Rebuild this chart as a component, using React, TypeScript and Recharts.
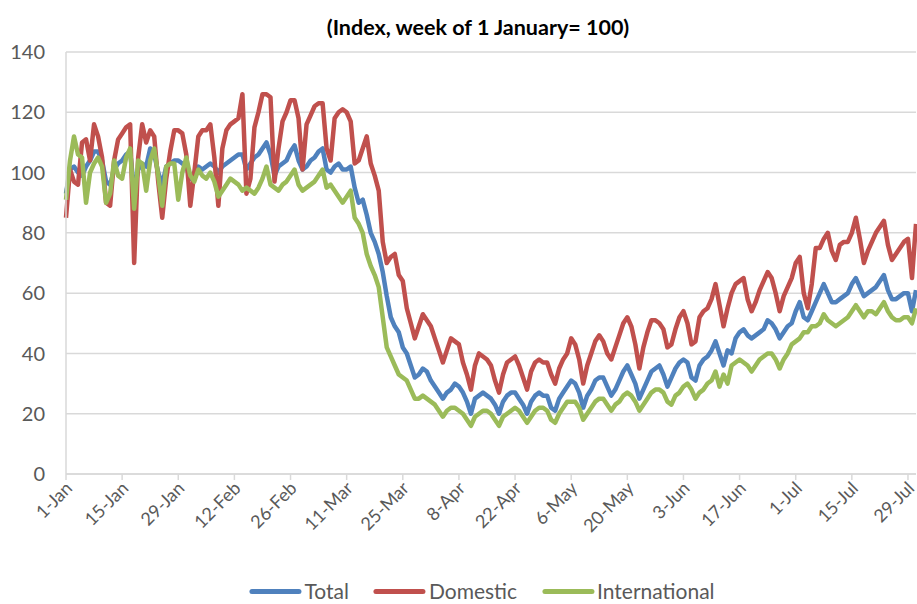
import React from 'react';
import { LineChart, Line, XAxis, YAxis, CartesianGrid } from 'recharts';

const MONTHS = ['Jan', 'Feb', 'Mar', 'Apr', 'May', 'Jun', 'Jul'];

// daily index values, 1 Jan - 31 Jul (one row per week, Wed..Tue)
const domestic: number[] = [
  85, 101, 97, 96, 110, 111, 104,
  116, 112, 105, 90, 89, 104, 111,
  113, 115, 116, 70, 105, 116, 110,
  114, 112, 97, 85, 98, 107, 114,
  114, 113, 106, 89, 100, 112, 114,
  114, 116, 105, 89, 108, 114, 116,
  117, 118, 126, 93, 98, 115, 120,
  126, 126, 125, 97, 108, 117, 120,
  124, 124, 118, 101, 116, 119, 122,
  123, 123, 108, 104, 118, 120, 121,
  120, 117, 103, 104, 108, 112, 103,
  99, 94, 77, 70, 72, 73, 66,
  64, 55, 50, 45, 49, 53, 51,
  49, 45, 41, 37, 41, 45, 44,
  43, 37, 33, 28, 36, 40, 39,
  38, 36, 31, 27, 33, 37, 38,
  39, 36, 32, 28, 34, 37, 38,
  37, 37, 33, 30, 35, 38, 40,
  45, 43, 38, 30, 36, 40, 44,
  46, 44, 40, 38, 42, 46, 50,
  52, 49, 43, 35, 42, 47, 51,
  51, 50, 48, 42, 43, 48, 52,
  54, 50, 43, 44, 52, 54, 55,
  58, 63, 56, 49, 55, 60, 63,
  64, 65, 58, 54, 57, 61, 64,
  67, 65, 60, 54, 59, 62, 65,
  70, 72, 60, 55, 63, 75, 75,
  78, 80, 74, 71, 76, 77, 77,
  80, 85, 78, 70, 74, 77, 80,
  82, 84, 76, 71, 73, 75, 77,
  78, 65, 83,
];

const total: number[] = [
  93, 101, 102, 100, 99, 102, 104,
  107, 107, 104, 97, 96, 101, 103,
  104, 106, 107, 94, 101, 103, 102,
  108, 106, 100, 96, 102, 103, 104,
  104, 103, 102, 98, 100, 102, 101,
  102, 103, 102, 100, 102, 103, 104,
  105, 106, 106, 101, 103, 105, 106,
  108, 110, 106, 99, 102, 103, 104,
  107, 109, 104, 101, 102, 104, 105,
  107, 108, 101, 100, 102, 103, 101,
  101, 102, 95, 90, 91, 86, 80,
  77, 73, 67, 59, 52, 49, 47,
  42, 40, 36, 32, 33, 35, 34,
  31, 29, 27, 25, 27, 28, 30,
  29, 27, 24, 20, 25, 26, 27,
  26, 25, 23, 20, 24, 26, 27,
  27, 25, 23, 20, 24, 26, 27,
  26, 26, 22, 21, 25, 27, 29,
  31, 30, 27, 22, 26, 28, 31,
  32, 32, 29, 26, 28, 31, 34,
  36, 33, 30, 25, 28, 31, 34,
  35, 36, 33, 29, 32, 35, 37,
  38, 37, 32, 31, 36, 38, 39,
  41, 44, 40, 36, 41, 40, 45,
  47, 48, 46, 45, 46, 47, 48,
  51, 50, 48, 45, 47, 49, 50,
  54, 57, 52, 51, 54, 57, 60,
  63, 60, 57, 57, 58, 59, 60,
  63, 65, 62, 59, 60, 61, 62,
  64, 66, 61, 58, 58, 59, 60,
  60, 54, 61,
];

const international: number[] = [
  91, 104, 112, 106, 105, 90, 100,
  103, 105, 102, 90, 93, 104, 99,
  98, 105, 108, 88, 104, 103, 94,
  104, 108, 99, 89, 102, 103, 103,
  91, 100, 105, 99, 97, 101, 99,
  98, 100, 97, 92, 94, 96, 98,
  97, 96, 94, 95, 94, 93, 95,
  98, 102, 96, 95, 94, 96, 97,
  99, 101, 96, 94, 95, 96, 97,
  99, 101, 95, 96, 94, 92, 90,
  92, 94, 85, 83, 80, 73, 69,
  66, 62, 52, 42, 39, 36, 33,
  32, 31, 28, 25, 25, 26, 25,
  24, 23, 21, 19, 21, 22, 22,
  21, 20, 18, 16, 19, 20, 21,
  21, 20, 18, 16, 19, 20, 21,
  22, 21, 19, 17, 19, 21, 22,
  22, 21, 18, 17, 20, 22, 24,
  24, 24, 22, 18, 20, 22, 24,
  25, 25, 23, 21, 23, 24, 26,
  27, 26, 24, 21, 23, 25, 27,
  28, 28, 27, 24, 23, 26, 27,
  29, 30, 28, 25, 27, 28, 30,
  31, 34, 29, 33, 30, 36, 37,
  38, 37, 36, 34, 36, 38, 39,
  40, 40, 38, 35, 38, 40, 43,
  44, 45, 47, 47, 49, 49, 50,
  53, 51, 50, 49, 50, 51, 52,
  54, 56, 54, 52, 54, 54, 53,
  55, 57, 54, 52, 51, 51, 52,
  52, 50, 55,
];

const yTicks = [0, 20, 40, 60, 80, 100, 120, 140];

const days = domestic.map((_, i) => {
  const d = new Date(2020, 0, 1 + i);
  return `${d.getDate()}-${MONTHS[d.getMonth()]}`;
});

const data = days.map((day, i) => ({
  day,
  total: total[i],
  domestic: domestic[i],
  international: international[i],
}));

const series = [
  { key: 'total', name: 'Total', color: '#4F81BD' },
  { key: 'domestic', name: 'Domestic', color: '#C0504D' },
  { key: 'international', name: 'International', color: '#9BBB59' },
];

const FONT = 'Lato, "Open Sans", sans-serif';

const DateTick = ({ x, y, payload }: any) => (
  <g transform={`translate(${x + 3},${y + 3})`}>
    <text
      textAnchor="end"
      dy="0.35em"
      transform="rotate(-45)"
      fontSize={18}
      fill="#595959"
      fontFamily={FONT}
    >
      {payload.value}
    </text>
  </g>
);

export default function App() {
  return (
    <div style={{ position: 'absolute', left: 0, top: 0, width: 917, height: 604, background: '#fff', fontFamily: FONT, overflow: 'hidden' }}>
      <div
        style={{
          position: 'absolute',
          top: 14,
          left: 478,
          transform: 'translateX(-50%)',
          whiteSpace: 'nowrap',
          fontSize: 21.5,
          lineHeight: '26px',
          fontWeight: 700,
          color: '#000',
        }}
      >
        (Index, week of 1 January= 100)
      </div>

      <LineChart width={917} height={604} data={data} margin={{ top: 52, right: 1, left: 0, bottom: 50 }}>
        <CartesianGrid vertical={false} stroke="#d9d9d9" strokeWidth={1.5} />
        <XAxis
          dataKey="day"
          interval={13}
          height={80}
          axisLine={{ stroke: '#d9d9d9', strokeWidth: 1.5 }}
          tickLine={{ stroke: '#d9d9d9', strokeWidth: 1.5 }}
          tickSize={6}
          tick={<DateTick />}
        />
        <YAxis
          width={66}
          domain={[0, 140]}
          ticks={yTicks}
          axisLine={{ stroke: '#d9d9d9', strokeWidth: 1.5 }}
          tickLine={false}
          tickMargin={15}
          tick={{ fontSize: 20, fill: '#595959', fontFamily: FONT }}
        />
        {series.map((s) => (
          <Line
            key={s.key}
            type="linear"
            dataKey={s.key}
            name={s.name}
            stroke={s.color}
            strokeWidth={4.5}
            strokeLinejoin="round"
            dot={false}
            isAnimationActive={false}
          />
        ))}
      </LineChart>

      {/* legend */}
      <div
        style={{
          position: 'absolute',
          top: 580,
          left: 482,
          transform: 'translateX(-50%)',
          display: 'flex',
          alignItems: 'center',
          gap: 25,
          whiteSpace: 'nowrap',
          fontSize: 21,
          lineHeight: '22px',
          color: '#595959',
        }}
      >
        {series.map((s) => (
          <div key={s.key} style={{ display: 'flex', alignItems: 'center' }}>
            <span
              style={{
                display: 'inline-block',
                width: 52,
                height: 5,
                borderRadius: 3,
                background: s.color,
                marginRight: 3,
              }}
            />
            <span>{s.name}</span>
          </div>
        ))}
      </div>
    </div>
  );
}
